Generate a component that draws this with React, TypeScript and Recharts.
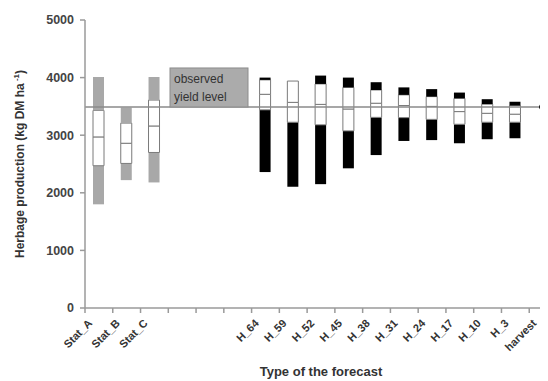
import React from 'react';
import { ComposedChart, Bar, Line, XAxis, YAxis, ReferenceLine, Cell, Label } from 'recharts';

const categories = ['Stat_A', 'Stat_B', 'Stat_C', 'gap_1', 'gap_2', 'gap_3', 'H_64', 'H_59', 'H_52', 'H_45', 'H_38', 'H_31', 'H_24', 'H_17', 'H_10', 'H_3', 'harvest'];
const minValues = [1800, 2220, 2180, null, null, null, 2360, 2105, 2150, 2425, 2655, 2900, 2915, 2860, 2930, 2945, null];
const q1Values = [2470, 2510, 2700, null, null, null, 3440, 3225, 3180, 3075, 3310, 3305, 3275, 3190, 3225, 3225, null];
const medianValues = [2970, 2860, 3160, null, null, null, 3710, 3570, 3535, 3455, 3555, 3515, 3500, 3410, 3380, 3365, null];
const q3Values = [3430, 3210, 3610, null, null, null, 3960, 3940, 3890, 3830, 3785, 3700, 3670, 3640, 3540, 3515, null];
const maxValues = [4010, 3480, 4010, null, null, null, 4000, 3940, 4035, 4000, 3920, 3830, 3800, 3740, 3625, 3580, null];
const harvestValues = [null, null, null, null, null, null, null, null, null, null, null, null, null, null, null, null, 3490];
const observedYield = 3490;
const yTicks = [0, 1000, 2000, 3000, 4000, 5000];

const FONT = '"Liberation Sans", Arial, sans-serif';
const AXIS_COLOR = '#9a9a9a';

const data = categories.map((cat, i) => {
  const mn = minValues[i];
  if (mn === null) {
    return { cat, base: null, lowW: null, lowB: null, highB: null, highW: null, harvest: harvestValues[i] };
  }
  return {
    cat,
    base: mn,
    lowW: (q1Values[i] as number) - mn,
    lowB: (medianValues[i] as number) - (q1Values[i] as number),
    highB: (q3Values[i] as number) - (medianValues[i] as number),
    highW: (maxValues[i] as number) - (q3Values[i] as number),
    harvest: harvestValues[i],
  };
});

const whiskerColor = (cat: string) => (cat.startsWith('Stat') ? '#a8a8a8' : '#000000');

const renderXTick = (props: any) => {
  const { x, y, payload } = props;
  const half = payload && typeof payload.offset === 'number' && payload.offset > 0 ? payload.offset : 13.88;
  const label = String(payload.value).startsWith('gap') ? '' : String(payload.value);
  return (
    <g key={`xt-${payload.value}`}>
      <line x1={x - half} y1={y} x2={x - half} y2={y + 5} stroke={AXIS_COLOR} strokeWidth={1.5} />
      {label ? (
        <g transform={`translate(${x - 6}, ${y + 16}) rotate(-45)`}>
          <text
            x={0}
            y={0}
            textAnchor="end"
            fontFamily={FONT}
            fontWeight="bold"
            fontSize={11}
            fill="#333"
          >
            {label}
          </text>
        </g>
      ) : null}
    </g>
  );
};

const YLabel = (props: any) => {
  const vb = props.viewBox || { x: 0, y: 12, width: 77, height: 288 };
  const cx = vb.x + 16;
  const cy = vb.y + vb.height / 2;
  return (
    <g transform={`translate(${cx}, ${cy}) rotate(-90)`}>
      <text
        x={0}
        y={0}
        textAnchor="middle"
        fontFamily={FONT}
        fontWeight="bold"
        fontSize={12}
        fill="#333"
      >
        <tspan>Herbage production  (kg DM ha</tspan>
        <tspan dy={-5} fontSize={8}> -1</tspan>
        <tspan dy={5}>)</tspan>
      </text>
    </g>
  );
};

const XLabel = (props: any) => {
  const vb = props.viewBox || { x: 77, y: 300, width: 472, height: 73 };
  return (
    <text
      x={vb.x + vb.width / 2}
      y={vb.y + 68}
      textAnchor="middle"
      fontFamily={FONT}
      fontWeight="bold"
      fontSize={13}
      fill="#333"
    >
      Type of the forecast
    </text>
  );
};

const ObservedLabel = (props: any) => {
  const vb = props.viewBox || { x: 77, y: 100 };
  const left = vb.x + 85;
  const top = vb.y - 39;
  return (
    <g>
      <rect x={left} y={top} width={78} height={39} fill="#ababab" stroke="#8c8c8c" strokeWidth={1} />
      <text x={left + 4} y={top + 15} fontFamily={FONT} fontSize={12} fill="#333">observed</text>
      <text x={left + 4} y={top + 33} fontFamily={FONT} fontSize={12} fill="#333">yield level</text>
    </g>
  );
};

export default function App() {
  return (
    <div style={{ width: 540, height: 373, overflow: 'hidden', background: '#fff' }}>
      <ComposedChart
        width={560}
        height={373}
        data={data}
        margin={{ top: 12, right: 11, bottom: 0, left: 0 }}
      >
        <XAxis
          dataKey="cat"
          interval={0}
          tickLine={false}
          tickSize={0}
          tickMargin={0}
          height={73}
          axisLine={{ stroke: AXIS_COLOR, strokeWidth: 1.5 }}
          tick={renderXTick}
        >
          <Label content={<XLabel />} />
        </XAxis>
        <YAxis
          type="number"
          domain={[0, 5000]}
          ticks={yTicks}
          interval={0}
          width={77}
          tickSize={5}
          tickMargin={6}
          axisLine={{ stroke: AXIS_COLOR, strokeWidth: 1.5 }}
          tickLine={{ stroke: AXIS_COLOR, strokeWidth: 1.5 }}
          tick={{ fontFamily: FONT, fontWeight: 'bold', fontSize: 12.5, fill: '#444' }}
        >
          <Label content={<YLabel />} />
        </YAxis>
        <ReferenceLine y={observedYield} stroke="#8a8a8a" strokeWidth={1.5} label={<ObservedLabel />} />
        <Bar dataKey="base" stackId="box" fill="transparent" barSize={11} isAnimationActive={false} />
        <Bar dataKey="lowW" stackId="box" barSize={11} isAnimationActive={false}>
          {data.map((d, i) => (
            <Cell key={`lw-${i}`} fill={whiskerColor(d.cat)} />
          ))}
        </Bar>
        <Bar dataKey="lowB" stackId="box" fill="#ffffff" stroke="#7a7a7a" strokeWidth={1} barSize={11} isAnimationActive={false} />
        <Bar dataKey="highB" stackId="box" fill="#ffffff" stroke="#7a7a7a" strokeWidth={1} barSize={11} isAnimationActive={false} />
        <Bar dataKey="highW" stackId="box" barSize={11} isAnimationActive={false}>
          {data.map((d, i) => (
            <Cell key={`hw-${i}`} fill={whiskerColor(d.cat)} />
          ))}
        </Bar>
        <Line
          dataKey="harvest"
          stroke="none"
          dot={{ r: 3.5, fill: '#000', stroke: '#000' }}
          activeDot={false}
          isAnimationActive={false}
        />
      </ComposedChart>
    </div>
  );
}
